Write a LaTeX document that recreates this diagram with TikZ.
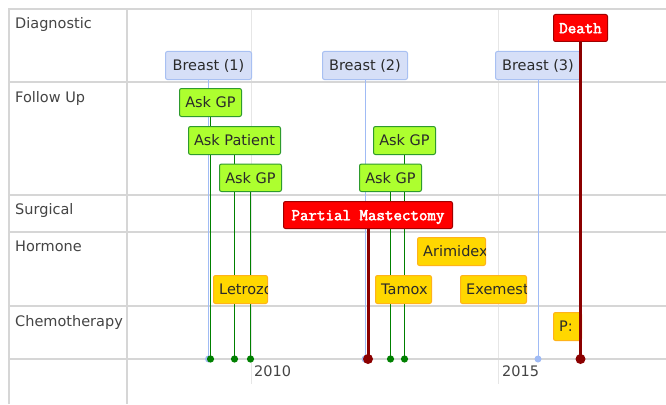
\documentclass[tikz,border=0pt]{standalone}
\usepackage{fontspec}
\setmainfont{DejaVu Sans}
\newfontfamily\codefont{Latin Modern Mono}[FakeBold=2.5]
\usetikzlibrary{calc}
\definecolor{gridc}{HTML}{D6D6D6}
\definecolor{yearc}{HTML}{E6E6E6}
\definecolor{labc}{HTML}{444444}
\definecolor{txtc}{HTML}{2A2A2A}
\definecolor{diagfill}{HTML}{D6DFF7}
\definecolor{diagdraw}{HTML}{A8C0F2}
\definecolor{diagline}{HTML}{A0BBF5}
\definecolor{fufill}{HTML}{ADFF2F}
\definecolor{fudraw}{HTML}{2E9A2E}
\definecolor{fuline}{HTML}{008000}
\definecolor{sfill}{HTML}{FF0000}
\definecolor{sdraw}{HTML}{A00000}
\definecolor{sline}{HTML}{8B0000}
\definecolor{hfill}{HTML}{FFD700}
\definecolor{hdraw}{HTML}{FFB31A}
\pgfdeclarelayer{bglayer}
\pgfdeclarelayer{gridlayer}
\pgfdeclarelayer{linelayer}
\pgfsetlayers{bglayer,gridlayer,linelayer,main}
\tikzset{
  every node/.style={font=\fontsize{14.5}{17}\selectfont},
  evbox/.style={rectangle, rounded corners=2pt, anchor=north west, inner sep=0pt,
    text height=10.5pt, text depth=0pt, text=txtc, line width=1pt},
  diag/.style={evbox, fill=diagfill, draw=diagdraw},
  fu/.style={evbox, fill=fufill, draw=fudraw},
  surg/.style={evbox, fill=sfill, draw=sdraw, text=white,
    font=\fontsize{16.5}{18}\selectfont\codefont},
  horm/.style={evbox, fill=hfill, draw=hdraw},
  rowlab/.style={anchor=base west, text=labc, inner sep=0pt},
  gridln/.style={draw=gridc, line width=1.5pt},
  yearln/.style={draw=yearc, line width=1pt},
  diagln/.style={draw=diagline, line width=1pt},
  fuln/.style={draw=fuline, line width=1.2pt},
  surgln/.style={draw=sline, line width=3pt},
}
\newcommand\cliptext[3]{%
  \begin{scope}
    \clip ([xshift=0.6pt,yshift=0.6pt]#1.south west) rectangle ([xshift=-0.6pt,yshift=-0.6pt]#1.north east);
    \node[anchor=west, inner sep=0pt, text height=10.5pt, text depth=0pt, text=txtc] (#2) at ([xshift=6pt]#1.west) {#3};
  \end{scope}}
\begin{document}
\begin{tikzpicture}[x=1pt,y=-1pt]
\begin{pgfonlayer}{bglayer}
  \fill[white] (0,0) rectangle (666,404);
\end{pgfonlayer}
\useasboundingbox (0,0) rectangle (666,404);
% grid
\begin{pgfonlayer}{gridlayer}
  \draw[yearln] (251,9) -- (251,384);
  \draw[yearln] (498,9) -- (498,384);
  \draw[gridln] (9,404) -- (9,9) -- (666,9);
  \draw[gridln] (127,9) -- (127,404);
  \foreach \yy in {82,195,232,306,359} \draw[gridln] (9,\yy) -- (666,\yy);
\end{pgfonlayer}
% row labels
\node[rowlab] (lDiag) at (15,28.6) {Diagnostic};
\node[rowlab] (lFu) at (15,102.6) {Follow Up};
\node[rowlab] (lSurg) at (15,214.6) {Surgical};
\node[rowlab] (lHorm) at (15,251.6) {Hormone};
\node[rowlab] (lChemo) at (15,326.6) {Chemotherapy};
% year labels
\node[rowlab] (y2010) at (254,376.7) {2010};
\node[rowlab] (y2015) at (502,376.7) {2015};
\coordinate (ax) at (0,359);
% diagnostic
\node[diag, minimum width=86pt, minimum height=28pt] (b1) at (165,51) {Breast (1)};
\node[diag, minimum width=85pt, minimum height=28pt] (b2) at (322,51) {Breast (2)};
\node[diag, minimum width=85pt, minimum height=28pt] (b3) at (495,51) {Breast (3)};
\node[surg, minimum width=54pt, minimum height=27pt] (death) at (553,14) {Death};
% follow up
\node[fu, minimum width=62pt, minimum height=28pt] (gp1) at (179,88) {Ask GP};
\node[fu, minimum width=92pt, minimum height=28pt] (pat) at (188,126) {Ask Patient};
\node[fu, minimum width=62pt, minimum height=27.5pt] (gp2) at (219,163.5) {Ask GP};
\node[fu, minimum width=62pt, minimum height=28pt] (gp3) at (373,126) {Ask GP};
\node[fu, minimum width=62pt, minimum height=27.5pt] (gp4) at (359,163.5) {Ask GP};
% surgical
\node[surg, minimum width=169pt, minimum height=27pt] (pm) at (283,201) {Partial Mastectomy};
% hormone
\node[horm, minimum width=68pt, minimum height=28pt] (ari) at (417,237) {};
\cliptext{ari}{ariT}{Arimidex}
\node[horm, minimum width=54pt, minimum height=28pt] (let) at (213,275) {};
\cliptext{let}{letT}{Letrozo}
\node[horm, minimum width=56pt, minimum height=28pt] (tam) at (375,275) {};
\cliptext{tam}{tamT}{Tamox}
\node[horm, minimum width=66pt, minimum height=28pt] (exe) at (460,275) {};
\cliptext{exe}{exeT}{Exemest}
% chemo
\node[horm, minimum width=28pt, minimum height=28pt] (pc) at (553,312) {};
\cliptext{pc}{pcT}{P:}
% axis points
\coordinate (db1) at (b1.south |- ax);
\coordinate (db2) at (b2.south |- ax);
\coordinate (db3) at (b3.south |- ax);
\coordinate (ddeath) at (death.south |- ax);
\coordinate (dgp1) at (gp1.south |- ax);
\coordinate (dpat) at (pat.south |- ax);
\coordinate (dgp2) at (gp2.south |- ax);
\coordinate (dgp3) at (gp3.south |- ax);
\coordinate (dgp4) at (gp4.south |- ax);
\coordinate (dpm) at (pm.south |- ax);
% connectors behind boxes
\begin{pgfonlayer}{linelayer}
  \draw[diagln] (b1.south) -- (db1);
  \draw[diagln] (b2.south) -- (db2);
  \draw[diagln] (b3.south) -- (db3);
  \draw[fuln] (gp1.south) -- (dgp1);
  \draw[fuln] (pat.south) -- (dpat);
  \draw[fuln] (gp2.south) -- (dgp2);
  \draw[fuln] (gp3.south) -- (dgp3);
  \draw[fuln] (gp4.south) -- (dgp4);
  \draw[surgln] (pm.south) -- (dpm);
\end{pgfonlayer}
\draw[surgln] (death.south) -- (ddeath);
% dots
\foreach \d in {db1,db2,db3} \fill[diagline] (\d) circle (3.5);
\foreach \d in {dgp1,dpat,dgp2,dgp3,dgp4} \fill[fuline] (\d) circle (3.6);
\foreach \d in {dpm,ddeath} \fill[sline] (\d) circle (5);
\end{tikzpicture}
\end{document}
